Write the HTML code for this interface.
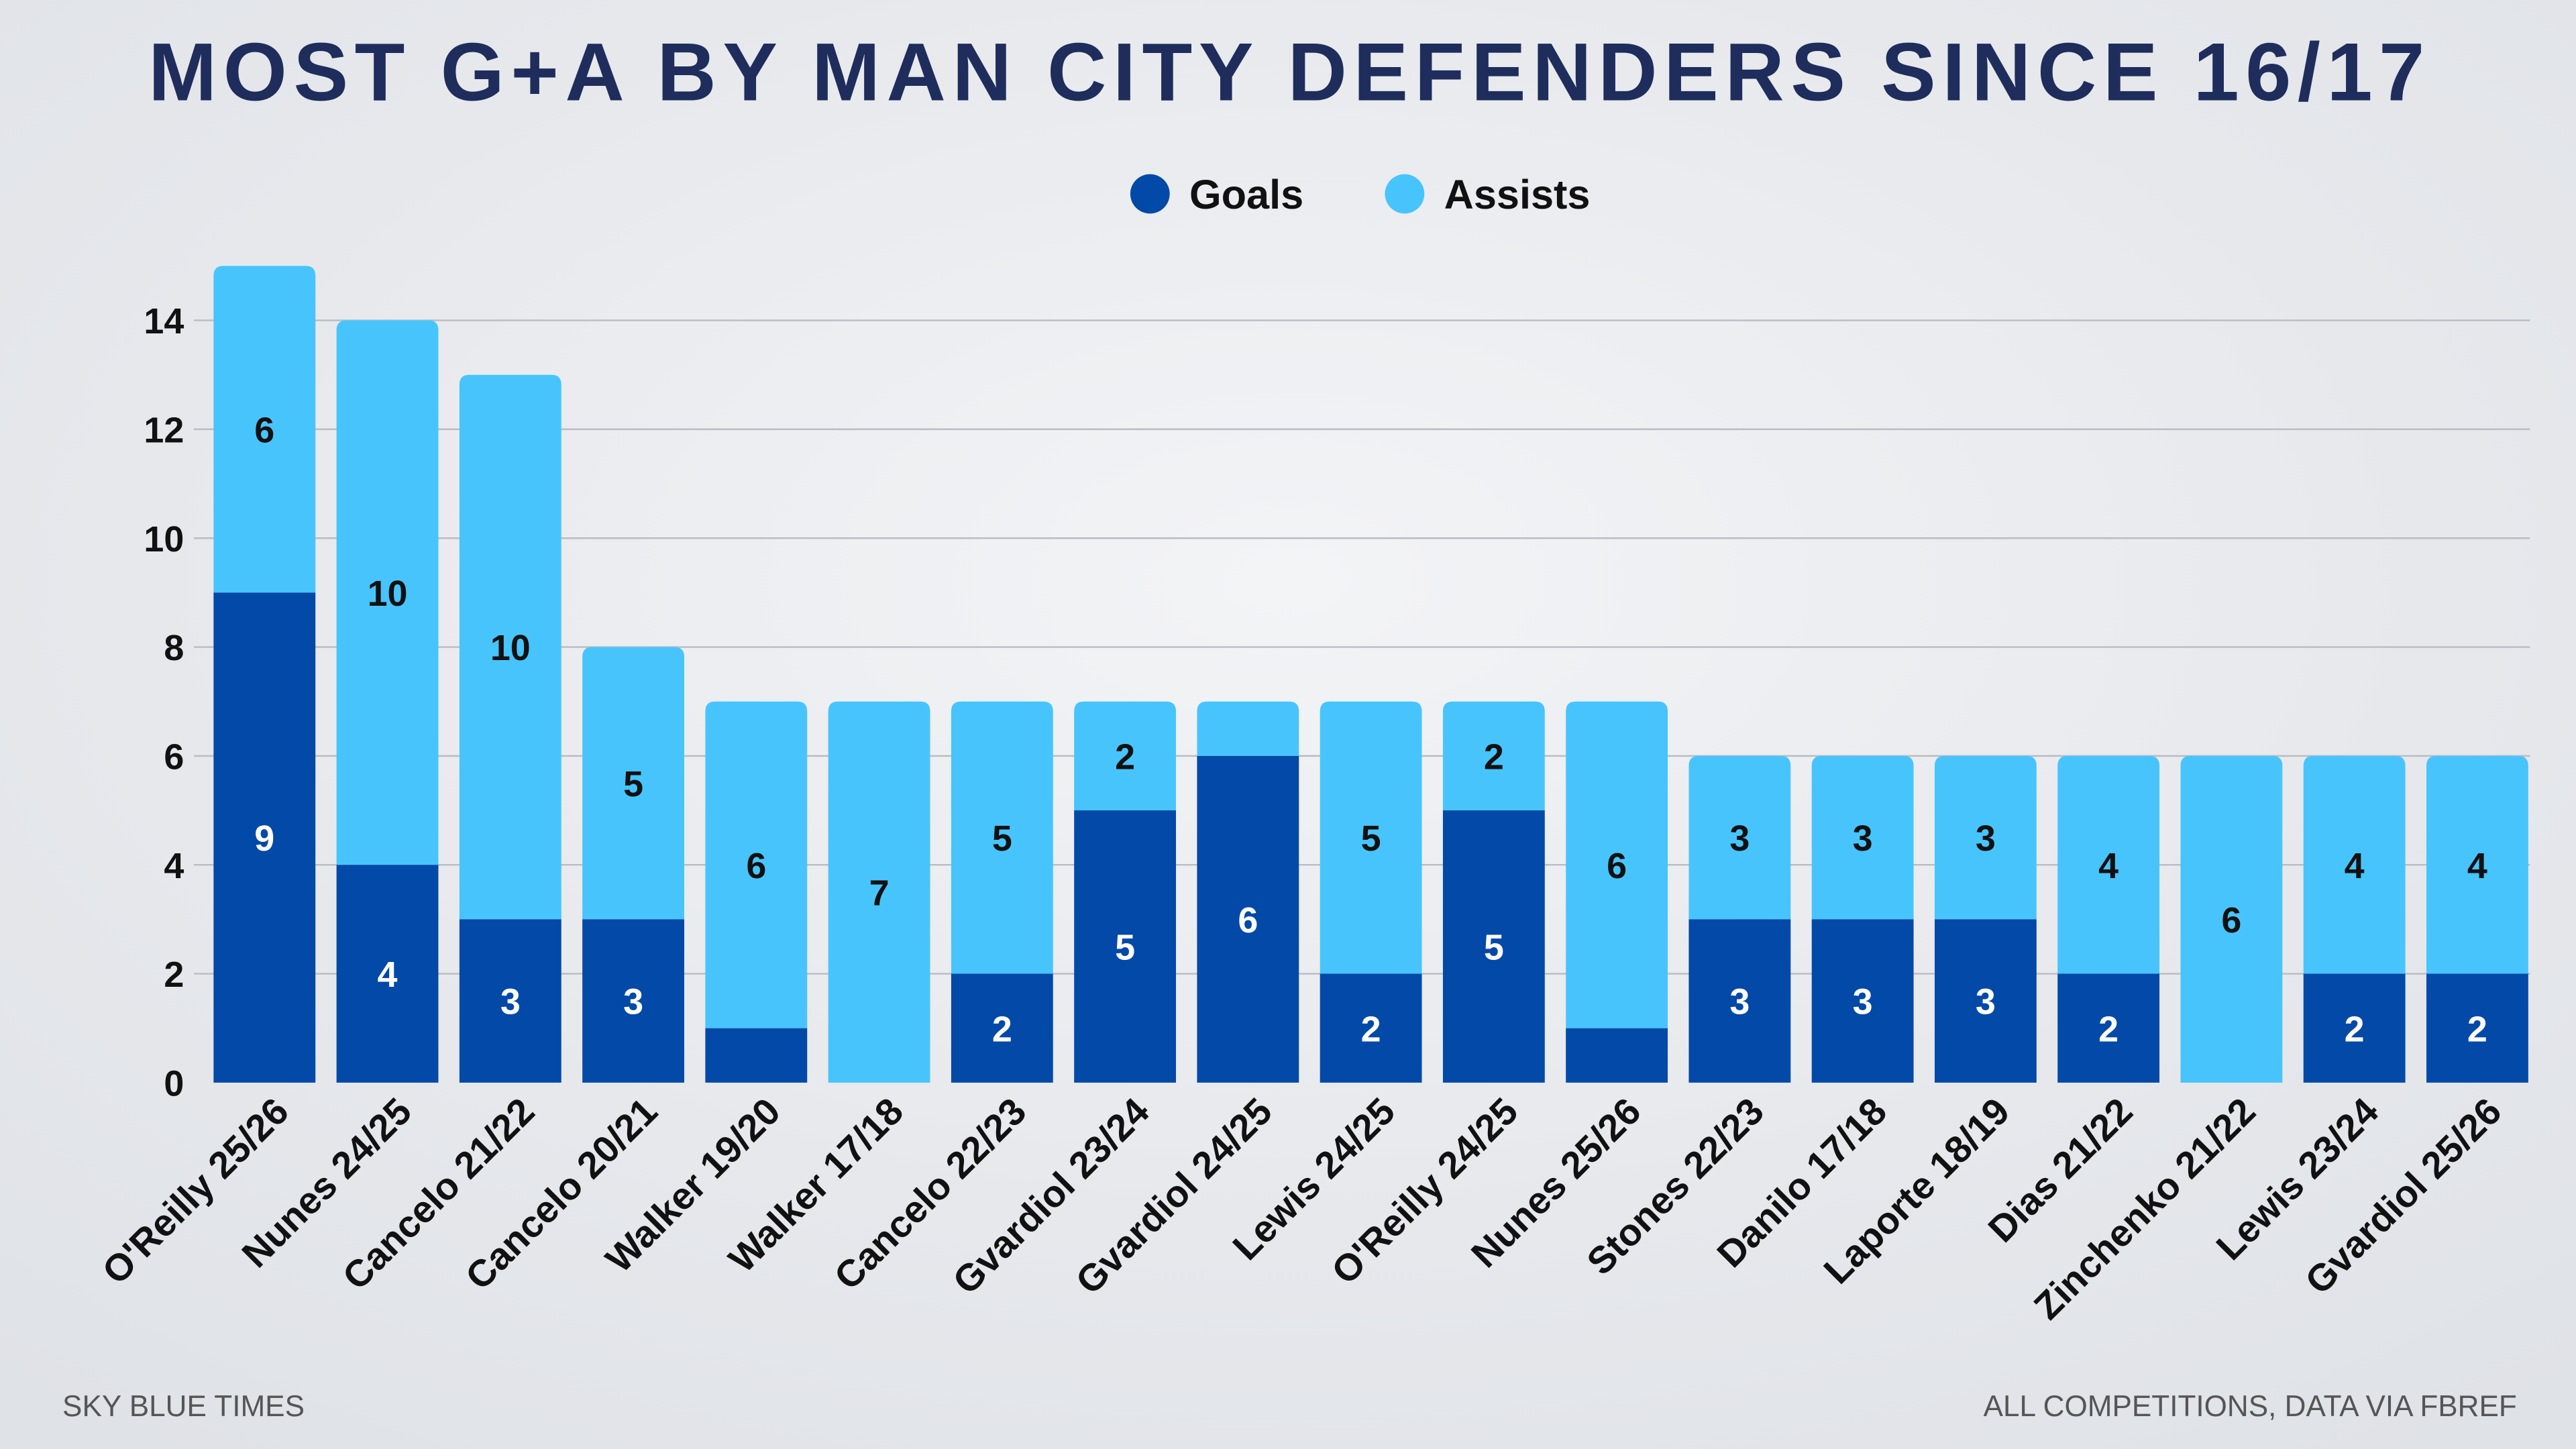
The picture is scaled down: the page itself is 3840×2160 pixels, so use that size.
<!DOCTYPE html>
<html><head><meta charset="utf-8">
<style>
html,body{margin:0;padding:0;}
body{width:3840px;height:2160px;overflow:hidden;background:#e9ebef;}
svg{display:block;}
text{font-family:"Liberation Sans",sans-serif;}
</style></head>
<body>
<svg id="chart" width="3840" height="2160" viewBox="0 0 1568 882" xmlns="http://www.w3.org/2000/svg">
<defs>
<radialGradient id="bg" cx="50%" cy="40%" r="75%">
<stop offset="0" stop-color="#f3f4f6"/>
<stop offset="0.6" stop-color="#e6e8ec"/>
<stop offset="1" stop-color="#dfe2e7"/>
</radialGradient>
</defs>
<rect x="0" y="0" width="1568" height="882" fill="url(#bg)"/>
<text x="785" y="61" text-anchor="middle" font-size="50" font-weight="bold" fill="#1f2d5c" letter-spacing="3.9">MOST G+A BY MAN CITY DEFENDERS SINCE 16/17</text>
<g>
<circle cx="700" cy="118" r="12" fill="#0349a8"/>
<text x="724" y="127" font-size="25" font-weight="bold" fill="#111">Goals</text>
<circle cx="855" cy="118" r="12" fill="#48c4fc"/>
<text x="879" y="127" font-size="25" font-weight="bold" fill="#111">Assists</text>
</g>
<g id="grid"></g>
<g id="bars"></g>
<g id="xlabels"></g>
<text x="38" y="862" font-size="18" fill="#555">SKY BLUE TIMES</text>
<text x="1532" y="862" font-size="18" fill="#555" text-anchor="end">ALL COMPETITIONS, DATA VIA FBREF</text>
</svg>
<script>
const categories = ["O'Reilly 25/26","Nunes 24/25","Cancelo 21/22","Cancelo 20/21","Walker 19/20","Walker 17/18","Cancelo 22/23","Gvardiol 23/24","Gvardiol 24/25","Lewis 24/25","O'Reilly 24/25","Nunes 25/26","Stones 22/23","Danilo 17/18","Laporte 18/19","Dias 21/22","Zinchenko 21/22","Lewis 23/24","Gvardiol 25/26"];
const goals = [9,4,3,3,1,0,2,5,6,2,5,1,3,3,3,2,0,2,2];
const assists = [6,10,10,5,6,7,5,2,1,5,2,6,3,3,3,4,6,4,4];
const yTicks = [0,2,4,6,8,10,12,14];

const NS="http://www.w3.org/2000/svg";
const y0=659, pxPerUnit=(659-195)/14;
function yScale(v){return y0 - v*pxPerUnit;}
const firstCenter=161, pitch=74.83, barW=62;
function xScale(i){return firstCenter + i*pitch;}
function mk(tag,attrs,parent){const e=document.createElementNS(NS,tag);for(const k in attrs)e.setAttribute(k,attrs[k]);parent.appendChild(e);return e;}

const grid=document.getElementById('grid');
yTicks.forEach(t=>{
  if(t>0){
    const l=mk('line',{x1:118,x2:1540,y1:yScale(t),y2:yScale(t),stroke:'#b9bcc2','stroke-width':1},grid);
    
    
  }
  const tx=mk('text',{x:112,y:yScale(t)+8,'text-anchor':'end','font-size':22,'font-weight':'bold',fill:'#111'},grid);
  tx.textContent=t;
  
  
});

const bars=document.getElementById('bars');
const xl=document.getElementById('xlabels');
categories.forEach((c,i)=>{
  const cx=xScale(i), x=cx-barW/2;
  const total=goals[i]+assists[i];
  const r=6;
  if(assists[i]>0){
    const yt=yScale(total), yb=yScale(goals[i]);
    const d=`M${x},${yb} L${x},${yt+r} Q${x},${yt} ${x+r},${yt} L${x+barW-r},${yt} Q${x+barW},${yt} ${x+barW},${yt+r} L${x+barW},${yb} Z`;
    const p=mk('path',{d:d,fill:'#48c4fc'},bars);
    
    
    if(assists[i]>=2){
      const t=mk('text',{x:cx,y:(yt+yb)/2+8,'text-anchor':'middle','font-size':22,'font-weight':'bold',fill:'#111'},bars);
      t.textContent=assists[i];
      
      
    }
  }
  if(goals[i]>0){
    const yt=yScale(goals[i]), yb=y0;
    let d;
    if(assists[i]>0) d=`M${x},${yb} L${x},${yt} L${x+barW},${yt} L${x+barW},${yb} Z`;
    else d=`M${x},${yb} L${x},${yt+r} Q${x},${yt} ${x+r},${yt} L${x+barW-r},${yt} Q${x+barW},${yt} ${x+barW},${yt+r} L${x+barW},${yb} Z`;
    const p=mk('path',{d:d,fill:'#0349a8'},bars);
    
    
    if(goals[i]>=2){
      const t=mk('text',{x:cx,y:(yt+yb)/2+8,'text-anchor':'middle','font-size':22,'font-weight':'bold',fill:'#fff'},bars);
      t.textContent=goals[i];
      
      
    }
  }
  const lx=cx+16, ly=678;
  const t=mk('text',{x:lx,y:ly,'text-anchor':'end','font-size':23,'font-weight':'bold',fill:'#111',transform:`rotate(-45 ${lx} ${ly})`},xl);
  t.textContent=c;
  
  
});
</script>
</body></html>
